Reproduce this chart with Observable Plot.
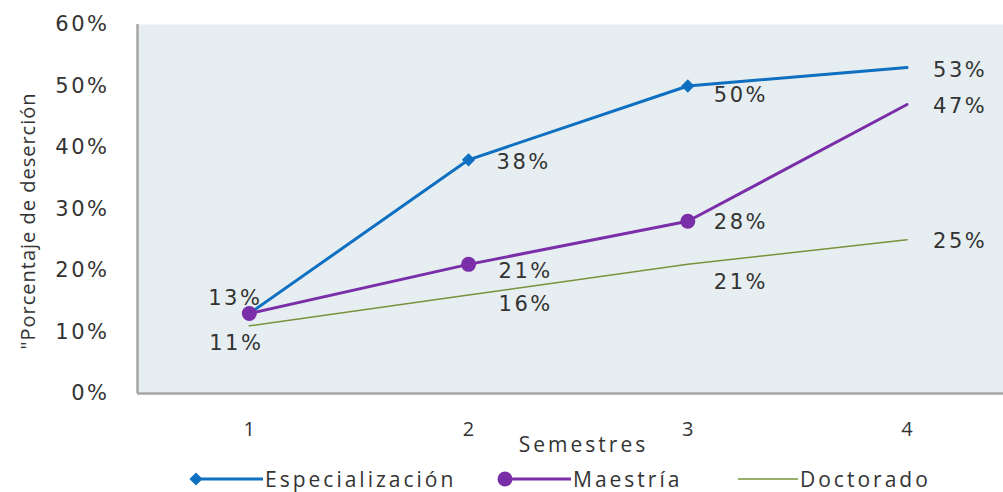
<!DOCTYPE html>
<html><head><meta charset="utf-8">
<script src="https://cdn.jsdelivr.net/npm/d3@7"></script>
<script src="https://cdn.jsdelivr.net/npm/@observablehq/plot@0.6"></script>
<style>
body{margin:0;background:#fff;}
#legend{position:relative;width:1003px;height:26px;font-family:"Open Sans",sans-serif;font-size:21px;letter-spacing:3px;color:#333;}
#legend .item{position:absolute;top:0;height:26px;display:flex;align-items:center;}
#legend svg{margin-right:2px;}
</style></head><body>
<div id="chart"></div>
<div id="legend"></div>
<script>
const semestres = [1, 2, 3, 4];
const especializacion = [0.13, 0.38, 0.50, 0.53];
const maestria = [0.13, 0.21, 0.28, 0.47];
const doctorado = [0.11, 0.16, 0.21, 0.25];
const yTicks = [0, 0.1, 0.2, 0.3, 0.4, 0.5, 0.6];
const seriesNames = ["Especialización", "Maestría", "Doctorado"];
const seriesColors = ["#0f6fc0", "#7a2ea8", "#77933c"];

// label layout (pixel offsets), separate from data
const labelOffsets = [
  [[-14,-15,"middle"],[28,2,"start"],[26,9,"start"],[26,3,"start"]],
  [null,[30,7,"start"],[26,1,"start"],[26,2,"start"]],
  [[-13,17,"middle"],[30,9,"start"],[26,18,"start"],[26,2,"start"]]
];

const allSeries = [especializacion, maestria, doctorado];
const rows = allSeries.map((vals, s) => semestres.map((x, i) => ({serie: seriesNames[s], x, y: vals[i], i})));

const labelFont = {fontFamily: "DejaVu Sans, Verdana, sans-serif", fontSize: 21, fill: "#333"};
const titleFont = {fontFamily: "Open Sans, sans-serif", fontSize: 21, fill: "#333"};
const fmt = d3.format(".0%");

const marks = [
  Plot.frame({fill: "#e6eef2", stroke: "none"}),
  Plot.ruleX([0.49], {stroke: "#a6a6a6", strokeWidth: 2.5}),
  Plot.ruleY([0], {stroke: "#a6a6a6", strokeWidth: 2.5}),
  Plot.axisY({ticks: yTicks, tickFormat: fmt, tickSize: 0, tickPadding: 28, label: null, ...labelFont}),
  Plot.axisX({ticks: semestres, tickFormat: d => String(d), tickSize: 0, tickPadding: 28, label: null, ...titleFont, fontSize: 20}),
  Plot.text(["Semestres"], {frameAnchor: "bottom", dx: 13, dy: 58, ...titleFont, ariaDescription: "xtitle"}),
  Plot.text(['"Porcentaje de deserción'], {frameAnchor: "left", textAnchor: "middle", rotate: -90, dx: -109, dy: 12, ...titleFont, fontSize: 20, ariaDescription: "ytitle"}),
  Plot.line(rows[2], {x: "x", y: "y", stroke: seriesColors[2], strokeWidth: 1.5}),
  Plot.line(rows[1], {x: "x", y: "y", stroke: seriesColors[1], strokeWidth: 3}),
  Plot.line(rows[0], {x: "x", y: "y", stroke: seriesColors[0], strokeWidth: 3}),
  Plot.dot(rows[0].filter(d => d.i < 3), {x: "x", y: "y", symbol: "diamond2", r: 6, fill: seriesColors[0], stroke: "none"}),
  Plot.dot(rows[1].filter(d => d.i < 3), {x: "x", y: "y", r: 7.5, fill: seriesColors[1], stroke: "none"}),
];

rows.forEach((r, s) => r.forEach((d, i) => {
  const o = labelOffsets[s][i];
  if (!o) return;
  marks.push(Plot.text([d], {x: "x", y: "y", text: dd => fmt(dd.y), dx: o[0], dy: o[1], textAnchor: o[2], ...labelFont, ariaDescription: "datalabel"}));
}));

const chart = Plot.plot({
  width: 1003, height: 466,
  marginLeft: 137, marginRight: 0, marginTop: 24, marginBottom: 73,
  x: {type: "linear", domain: [0.49, 4.44]},
  y: {domain: [0, 0.6]},
  style: {background: "white", overflow: "visible"},
  marks
});
const sel = d3.select(chart);
sel.selectAll('g[aria-label="y-axis tick label"] text').style("letter-spacing", "2.5px");
const spacing = (name, v) => sel.selectAll(`g[aria-description="${name}"] text`).style("letter-spacing", v);
spacing("datalabel", "2.5px");
spacing("xtitle", "3px");
spacing("ytitle", "1px");
document.getElementById("chart").appendChild(chart);

// legend
const legend = d3.select("#legend");
const legendX = [185, 493, 728];
const legendW = [78, 78, 70];
seriesNames.forEach((name, s) => {
  const item = legend.append("div").attr("class", "item").style("left", legendX[s] + "px");
  const w = legendW[s];
  const svg = item.append("svg").attr("width", w).attr("height", 20);
  svg.append("line").attr("x1", 10).attr("x2", w).attr("y1", 10).attr("y2", 10)
    .attr("stroke", seriesColors[s]).attr("stroke-width", s === 2 ? 1.5 : 3);
  if (s === 0) svg.append("path").attr("d", d3.symbol(d3.symbolDiamond2, 110)()).attr("transform", "translate(11,10)").attr("fill", seriesColors[0]);
  if (s === 1) svg.append("circle").attr("cx", 12).attr("cy", 10).attr("r", 7.5).attr("fill", seriesColors[1]);
  item.append("span").text(name);
});
</script>
</body></html>
